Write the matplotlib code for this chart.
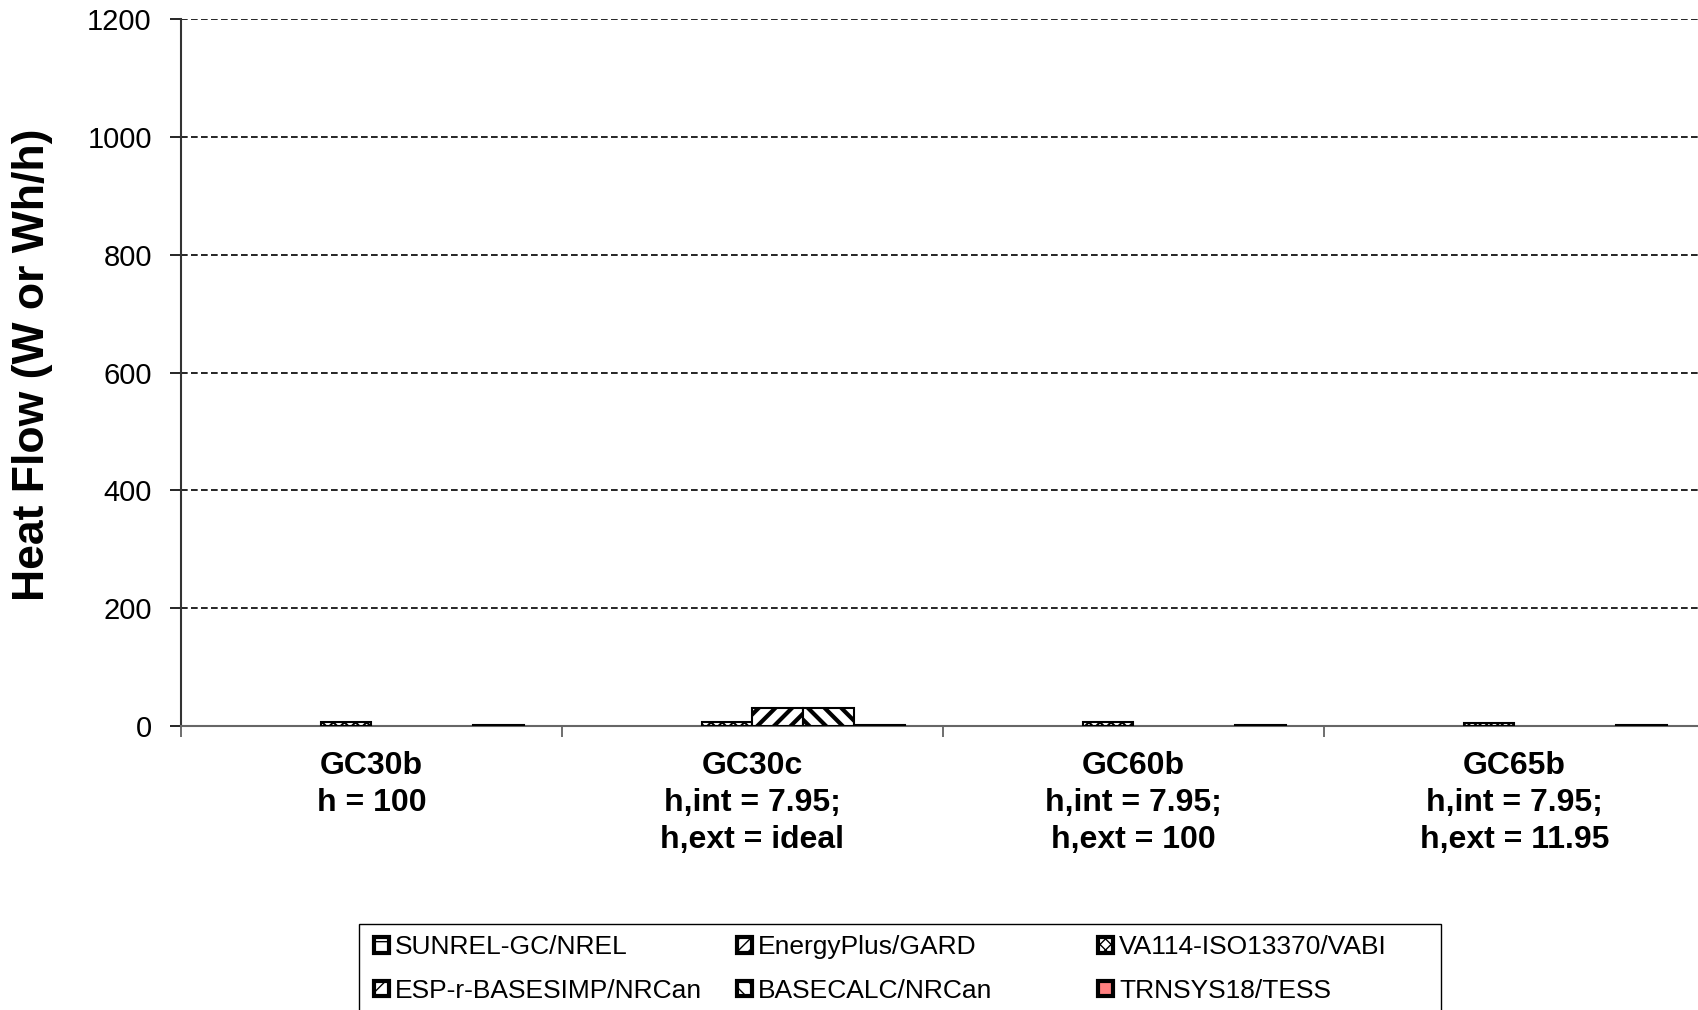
import matplotlib.pyplot as plt
import numpy as np
from matplotlib.patches import Rectangle, Patch

plt.rcParams['font.family'] = ['Liberation Sans', 'DejaVu Sans']

# cases on the x axis
cases = ['GC30b\nh = 100',
         'GC30c\nh,int = 7.95;\nh,ext = ideal',
         'GC60b\nh,int = 7.95;\nh,ext = 100',
         'GC65b\nh,int = 7.95;\nh,ext = 11.95']

# programs (legend order)
programs = ['SUNREL-GC/NREL', 'EnergyPlus/GARD', 'VA114-ISO13370/VABI',
            'ESP-r-BASESIMP/NRCan', 'BASECALC/NRCan', 'TRNSYS18/TESS']

# heat flow values, W or Wh/h (nan = no result)
sunrel = [np.nan, np.nan, np.nan, np.nan]
energyplus = [np.nan, np.nan, np.nan, np.nan]
va114 = [6, 6, 6, 5]
esp_r = [np.nan, 30, np.nan, np.nan]
basecalc = [np.nan, 30, np.nan, np.nan]
trnsys = [1, 1, 1, 1]

series = [sunrel, energyplus, va114, esp_r, basecalc, trnsys]
hatches = ['-', '///', 'xxx', '//', '\\\\', None]
hatch_lw = [2.5, 1.2, 1.5, 3.0, 3.0, 1.0]
faces = ['white', 'white', 'white', 'white', 'white', '#ff8080']

fig = plt.figure(figsize=(16.99, 10.10), dpi=100)
ax = fig.add_axes([0.1065, 0.2812, 0.897, 0.6995])

x = np.arange(len(cases))
w = 0.8 / len(series)
handles = []
for i, vals in enumerate(series):
    with plt.rc_context({'hatch.linewidth': hatch_lw[i]}):
        ax.bar(x + (i - 2.5) * w, vals, w, color=faces[i], edgecolor='black',
               hatch=hatches[i], linewidth=1.5, label=programs[i], zorder=3)
        handles.append(Patch(facecolor=faces[i], edgecolor='black',
                             hatch=hatches[i], linewidth=3.0))

ax.set_ylim(0, 1200)
ax.set_xlim(-0.5, len(cases) - 0.5)
ax.set_yticks(np.arange(0, 1201, 200))
ax.tick_params(axis='y', labelsize=21, length=8, width=1.2, pad=13)

# category dividers as major ticks, names as minor tick labels
ax.set_xticks(np.arange(-0.5, len(cases), 1.0))
ax.set_xticklabels([])
ax.set_xticks(x, minor=True)
ax.set_xticklabels(cases, minor=True, fontsize=23, fontweight='bold',
                   linespacing=1.3)
ax.tick_params(axis='x', which='major', length=8, width=1.2, color='#555555')
ax.tick_params(axis='x', which='minor', length=0, pad=18)

ax.grid(axis='y', color='black', linestyle=(0, (4, 2)), linewidth=1.2, zorder=0)
for s in ['top', 'right']:
    ax.spines[s].set_visible(False)
ax.spines['left'].set_linewidth(1.5)
ax.spines['left'].set_color('#333333')
ax.spines['bottom'].set_color('#666666')
ax.spines['bottom'].set_linewidth(1.5)

fig.text(0.019, 0.6386, 'Heat Flow (W or Wh/h)', rotation=90, fontsize=32,
         fontweight='bold', ha='center', va='center')

# legend: three fixed columns inside one frame, filled row by row
W, H = 1699, 1010
col_x = [374, 737, 1098]
for c in range(3):
    idx = [c, c + 3]
    fig.legend([handles[k] for k in idx], [programs[k] for k in idx],
               loc='upper left', bbox_to_anchor=(col_x[c] / W, 1 - 935 / H),
               ncol=1, fontsize=19, frameon=False,
               handlelength=0.55, handleheight=0.55, handletextpad=0.25,
               labelspacing=0.75, borderpad=0, borderaxespad=0)
fig.add_artist(Rectangle((359 / W, -0.05), (1441 - 359) / W, (1 - 924 / H) + 0.05,
                         transform=fig.transFigure, fill=False,
                         edgecolor='black', linewidth=1.0, clip_on=False))

plt.savefig('out.png', dpi=100)
